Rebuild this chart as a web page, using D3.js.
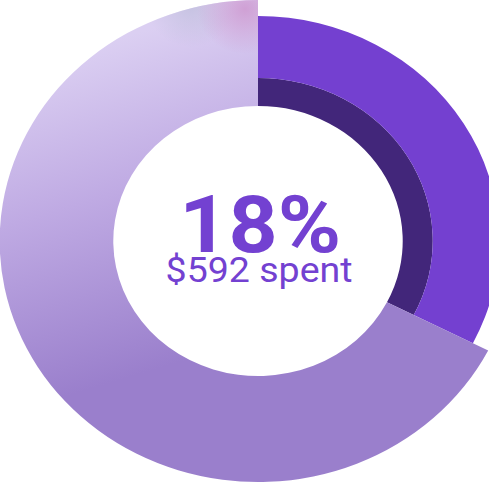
<!DOCTYPE html>
<html>
<head>
<meta charset="utf-8">
<script src="https://cdn.jsdelivr.net/npm/d3@7"></script>
<style>
  html, body { margin: 0; padding: 0; background: #fff; overflow: hidden; }
  svg { display: block; }
</style>
</head>
<body>
<svg width="489" height="483"></svg>
<script>
// доли кольца (в процентах по окружности)
const parts = ["spent", "remaining"];
const shares = [32.5, 67.5];
const bigLabel = "18%";
const smallLabel = "$592 spent";

const width = 489, height = 483;
const cx = 258, cy = 241;
const stretch = 1.072; // картинка немного растянута по горизонтали

let svg = d3.select("svg");
let defs = svg.append("defs");

// градиент для большой светлой дуги
let lg = defs.append("linearGradient")
    .attr("id", "lightGrad")
    .attr("gradientUnits", "userSpaceOnUse")
    .attr("x1", -170).attr("y1", -190)
    .attr("x2", -70).attr("y2", 120);
lg.append("stop").attr("offset", "0%").attr("stop-color", "#dbcff2");
lg.append("stop").attr("offset", "45%").attr("stop-color", "#bfaae3");
lg.append("stop").attr("offset", "100%").attr("stop-color", "#9a7fcc");

// розоватый блик сверху
let rg = defs.append("radialGradient")
    .attr("id", "pinkGlow")
    .attr("gradientUnits", "userSpaceOnUse")
    .attr("cx", -12).attr("cy", -232).attr("r", 45);
rg.append("stop").attr("offset", "0%").attr("stop-color", "#cf9ed3").attr("stop-opacity", 0.95);
rg.append("stop").attr("offset", "100%").attr("stop-color", "#cf9ed3").attr("stop-opacity", 0);

let bg = defs.append("radialGradient")
    .attr("id", "greyGlow")
    .attr("gradientUnits", "userSpaceOnUse")
    .attr("cx", -62).attr("cy", -236).attr("r", 42);
bg.append("stop").attr("offset", "0%").attr("stop-color", "#b8bad6").attr("stop-opacity", 0.6);
bg.append("stop").attr("offset", "100%").attr("stop-color", "#b8bad6").attr("stop-opacity", 0);

let g = svg.append("g")
    .attr("transform", `translate(${cx}, ${cy}) scale(${stretch}, 1)`);

let pie = d3.pie().sort(null).value(d => d);
let arcsData = pie(shares);
let spent = arcsData[0];
let rest = arcsData[1];

// тёмная внутренняя полоса
g.append("path")
    .attr("d", d3.arc().innerRadius(135).outerRadius(163)(spent))
    .attr("fill", "#42267a");

// основная фиолетовая дуга
g.append("path")
    .attr("d", d3.arc().innerRadius(163).outerRadius(225)(spent))
    .attr("fill", "#7440d0");

// светлая дуга поверх
let restArc = d3.arc().innerRadius(135).outerRadius(241);
g.append("path")
    .attr("d", restArc(rest))
    .attr("fill", "url(#lightGrad)");
g.append("path")
    .attr("d", restArc(rest))
    .attr("fill", "url(#greyGlow)");
g.append("path")
    .attr("d", restArc(rest))
    .attr("fill", "url(#pinkGlow)");

// подписи в центре
g.append("text")
    .attr("x", 2)
    .attr("y", 11)
    .attr("text-anchor", "middle")
    .style("font-family", "Roboto, sans-serif")
    .style("font-weight", 700)
    .style("font-size", "80px")
    .attr("fill", "#7341d1")
    .text(bigLabel);

g.append("text")
    .attr("x", 1)
    .attr("y", 41)
    .attr("text-anchor", "middle")
    .style("font-family", "Roboto, sans-serif")
    .style("font-weight", 400)
    .style("font-size", "35px")
    .attr("fill", "#7341d1")
    .text(smallLabel);
</script>
</body>
</html>
